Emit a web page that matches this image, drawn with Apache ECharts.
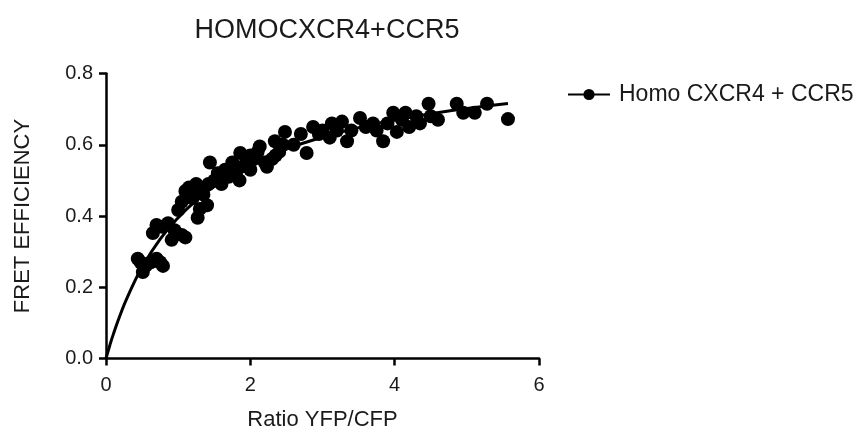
<!DOCTYPE html>
<html>
<head>
<meta charset="utf-8">
<script src="https://cdn.jsdelivr.net/npm/echarts@6/dist/echarts.min.js"></script>
<style>
  html, body { margin: 0; padding: 0; background: #fff; }
  #chart { width: 863px; height: 434px; }
</style>
</head>
<body>
<div id="chart"></div>
<script>
const seriesName = "Homo CXCR4 + CCR5";

// measured points [ratio YFP/CFP, FRET efficiency]
const points = [
  [0.44, 0.28], [0.48, 0.27], [0.51, 0.243], [0.55, 0.26], [0.62, 0.27],
  [0.70, 0.28], [0.79, 0.26], [0.75, 0.27],
  [0.65, 0.352], [0.70, 0.375], [0.78, 0.37], [0.86, 0.38], [0.91, 0.333],
  [0.95, 0.36], [1.05, 0.347], [1.10, 0.34],
  [1.00, 0.417], [1.05, 0.44], [1.10, 0.47], [1.15, 0.48], [1.20, 0.45],
  [1.27, 0.395], [1.30, 0.42], [1.35, 0.46], [1.40, 0.43], [1.42, 0.49],
  [1.25, 0.49], [1.44, 0.55], [1.50, 0.50], [1.30, 0.47],
  [1.55, 0.52], [1.60, 0.49], [1.65, 0.53], [1.70, 0.51], [1.75, 0.55],
  [1.80, 0.52], [1.86, 0.577], [1.90, 0.54], [1.95, 0.55], [2.00, 0.53],
  [2.05, 0.56], [2.10, 0.58], [2.13, 0.595], [1.85, 0.50], [2.00, 0.57],
  [2.20, 0.55], [2.23, 0.538], [2.30, 0.56], [2.34, 0.61], [2.40, 0.58],
  [2.48, 0.636], [2.45, 0.60], [2.35, 0.57],
  [2.60, 0.60], [2.70, 0.63], [2.78, 0.577], [2.87, 0.65], [2.95, 0.63], [3.00, 0.64],
  [3.10, 0.62], [3.13, 0.66], [3.20, 0.64], [3.27, 0.665], [3.34, 0.61],
  [3.40, 0.64], [3.52, 0.675],
  [3.60, 0.65], [3.70, 0.66], [3.75, 0.64], [3.84, 0.61], [3.90, 0.66],
  [3.98, 0.69], [4.03, 0.636],
  [4.10, 0.67], [4.15, 0.69], [4.20, 0.65], [4.30, 0.68], [4.35, 0.66],
  [4.47, 0.715], [4.50, 0.68], [4.60, 0.67],
  [4.86, 0.715], [4.95, 0.69], [5.11, 0.69], [5.28, 0.715], [5.57, 0.672]
];

// fitted saturation curve
const curveX = [0, 0.05, 0.1, 0.2, 0.3, 0.5, 0.75, 1, 1.25, 1.5, 2, 2.5, 3, 3.5, 4, 4.5, 5, 5.57];
const curveY = [0, 0.035, 0.067, 0.124, 0.174, 0.256, 0.335, 0.395, 0.444, 0.483, 0.544, 0.588, 0.621, 0.648, 0.669, 0.687, 0.702, 0.716];

const xTicks = [0, 2, 4, 6];
const yTicks = [0, 0.2, 0.4, 0.6, 0.8];

const chart = echarts.init(document.getElementById("chart"));
const font = "Liberation Sans, Arial, sans-serif";

chart.setOption({
  animation: false,
  title: {
    text: "HOMOCXCR4+CCR5",
    left: 322,
    textAlign: "center",
    top: 12,
    textStyle: { fontFamily: font, fontSize: 27, fontWeight: "normal", color: "#1a1a1a" },
  },
  legend: {
    data: [seriesName],
    left: 562,
    top: 78,
    itemWidth: 42,
    itemHeight: 14,
    itemGap: 10,
    textStyle: { fontFamily: font, fontSize: 23, color: "#1a1a1a", padding: [0, 0, 0, 4] },
  },
  grid: { left: 106, top: 73.5, right: 324, bottom: 75.5, outerBoundsMode: "none" },
  xAxis: {
    type: "value",
    min: xTicks[0],
    max: xTicks[xTicks.length - 1],
    interval: 2,
    name: "Ratio YFP/CFP",
    nameLocation: "middle",
    nameGap: 50,
    nameTextStyle: { fontFamily: font, fontSize: 22, color: "#1a1a1a" },
    axisLine: { lineStyle: { color: "#000", width: 2.5 } },
    axisTick: { length: 7, lineStyle: { color: "#000", width: 2.5 } },
    axisLabel: { fontFamily: font, fontSize: 20, color: "#1a1a1a", margin: 17 },
    splitLine: { show: false },
  },
  yAxis: {
    type: "value",
    min: yTicks[0],
    max: yTicks[yTicks.length - 1],
    interval: 0.2,
    name: "FRET EFFICIENCY",
    nameLocation: "middle",
    nameGap: 72,
    nameTextStyle: { fontFamily: font, fontSize: 22, color: "#1a1a1a" },
    axisLine: { show: true, lineStyle: { color: "#000", width: 2.5 } },
    axisTick: { show: true, length: 7, lineStyle: { color: "#000", width: 2.5 } },
    axisLabel: {
      fontFamily: font, fontSize: 20, color: "#1a1a1a", margin: 13,
      formatter: (v) => v.toFixed(1),
    },
    splitLine: { show: false },
  },
  series: [
    {
      name: seriesName,
      type: "line",
      data: curveX.map((x, i) => [x, curveY[i]]),
      smooth: true,
      symbol: "circle",
      symbolSize: 13,
      showSymbol: false,
      lineStyle: { color: "#000", width: 3 },
      itemStyle: { color: "#000" },
      z: 3,
    },
    {
      name: seriesName,
      type: "scatter",
      data: points,
      symbol: "circle",
      symbolSize: 14,
      itemStyle: { color: "#000", opacity: 1 },
      z: 4,
    },
  ],
});
</script>
</body>
</html>
